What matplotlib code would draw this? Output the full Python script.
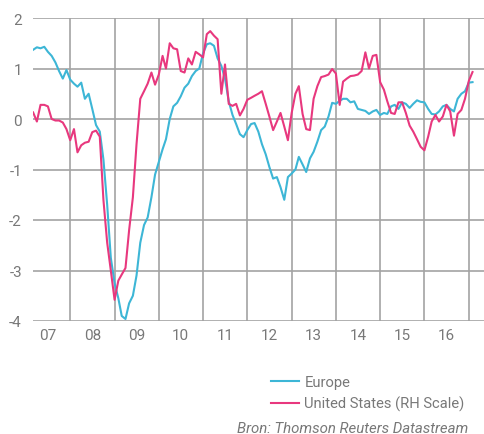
import matplotlib
matplotlib.use('Agg')
import matplotlib.pyplot as plt
import matplotlib.dates as mdates
import pandas as pd

plt.rcParams['font.family'] = ['Roboto', 'DejaVu Sans']

# monthly values, March 2007 .. February 2017
europe = [1.37, 1.42, 1.40, 1.43, 1.33, 1.25, 1.12, 0.95, 0.80, 0.97,
          0.78, 0.70, 0.64, 0.72, 0.40, 0.50, 0.20, -0.12, -0.25, -0.80,
          -1.70, -2.75, -3.25, -3.55, -3.90, -3.96, -3.65, -3.50, -3.10, -2.45,
          -2.10, -1.95, -1.55, -1.10, -0.85, -0.60, -0.40, 0.00, 0.25, 0.32,
          0.45, 0.62, 0.70, 0.85, 0.95, 1.00, 1.30, 1.48, 1.50, 1.45,
          1.20, 1.05, 0.80, 0.35, 0.08, -0.10, -0.30, -0.36, -0.22, -0.10,
          -0.08, -0.25, -0.50, -0.70, -0.95, -1.18, -1.15, -1.35, -1.60, -1.15,
          -1.08, -1.00, -0.75, -0.90, -1.05, -0.78, -0.65, -0.45, -0.22, -0.15,
          0.05, 0.32, 0.30, 0.36, 0.40, 0.40, 0.33, 0.35, 0.20, 0.18,
          0.16, 0.10, 0.15, 0.18, 0.08, 0.12, 0.10, 0.25, 0.28, 0.20,
          0.33, 0.30, 0.22, 0.30, 0.37, 0.34, 0.33, 0.20, 0.10, 0.09,
          0.15, 0.25, 0.28, 0.20, 0.15, 0.40, 0.50, 0.55, 0.72, 0.73]

united_states = [0.13, -0.05, 0.28, 0.28, 0.25, 0.00, -0.03, -0.03, -0.07, -0.20,
                 -0.42, -0.20, -0.66, -0.52, -0.47, -0.45, -0.26, -0.23, -0.35, -1.60,
                 -2.45, -3.00, -3.58, -3.20, -3.08, -2.95, -2.20, -1.55, -0.50, 0.40,
                 0.55, 0.70, 0.92, 0.68, 0.88, 1.25, 1.00, 1.50, 1.40, 1.38,
                 0.95, 0.92, 1.20, 1.08, 1.33, 1.28, 1.22, 1.68, 1.74, 1.65,
                 1.58, 0.50, 1.08, 0.30, 0.26, 0.30, 0.07, 0.20, 0.38, 0.42,
                 0.46, 0.50, 0.55, 0.30, 0.05, -0.22, -0.05, 0.12, -0.15, -0.42,
                 0.12, 0.50, 0.65, 0.10, -0.20, -0.22, 0.40, 0.65, 0.83, 0.85,
                 0.88, 0.99, 0.90, 0.28, 0.74, 0.80, 0.85, 0.86, 0.88, 0.95,
                 1.32, 1.00, 1.25, 1.27, 0.73, 0.58, 0.35, 0.12, 0.10, 0.33,
                 0.33, 0.12, -0.13, -0.25, -0.40, -0.55, -0.62, -0.35, -0.05, 0.08,
                 -0.05, 0.05, 0.28, 0.15, -0.33, 0.10, 0.18, 0.40, 0.75, 0.93]

dates = pd.date_range('2007-03-01', periods=len(europe), freq='MS')
year_labels = ['07', '08', '09', '10', '11', '12', '13', '14', '15', '16']
y_ticks = [-4, -3, -2, -1, 0, 1, 2]

fig = plt.figure(figsize=(4.85, 4.35), dpi=100)
ax = fig.add_axes([33 / 485, 1 - 322 / 435, 1 - 33 / 485, (322 - 19) / 435])

ax.plot(dates, europe, color='#3db6d6', lw=1.5, label='Europe')
ax.plot(dates, united_states, color='#e8387e', lw=1.5, label='United States (RH Scale)')

ax.set_ylim(-4, 2)
ax.set_xlim(pd.Timestamp('2007-02-28'), pd.Timestamp('2017-05-15'))
ax.set_yticks(y_ticks)
ax.set_yticklabels([str(v) for v in y_ticks])

ax.xaxis.set_major_locator(mdates.YearLocator())
ax.xaxis.set_major_formatter(plt.NullFormatter())
ax.xaxis.set_minor_locator(mdates.MonthLocator(bymonth=7))
ax.xaxis.set_minor_formatter(plt.FixedFormatter(year_labels))

ax.grid(True, which='major', color='#a3a3a3', lw=1.2)
ax.set_axisbelow(True)
for s in ax.spines.values():
    s.set_visible(False)

ax.tick_params(axis='both', which='both', length=0, colors='#787878', labelsize=11)
ax.tick_params(axis='y', pad=8)
ax.tick_params(axis='x', which='minor', pad=5)

fig.legend(loc='upper left', bbox_to_anchor=(258 / 485, 1 - 363 / 435),
           frameon=False, fontsize=10.6, labelcolor='#787878',
           handlelength=1.9, handletextpad=0.35, labelspacing=0.45)

fig.text(468 / 485, 1 - 429 / 435, 'Bron: Thomson Reuters Datastream',
         ha='right', va='center', style='italic', fontsize=10.8, color='#787878')

plt.savefig('out.png', dpi=100)
